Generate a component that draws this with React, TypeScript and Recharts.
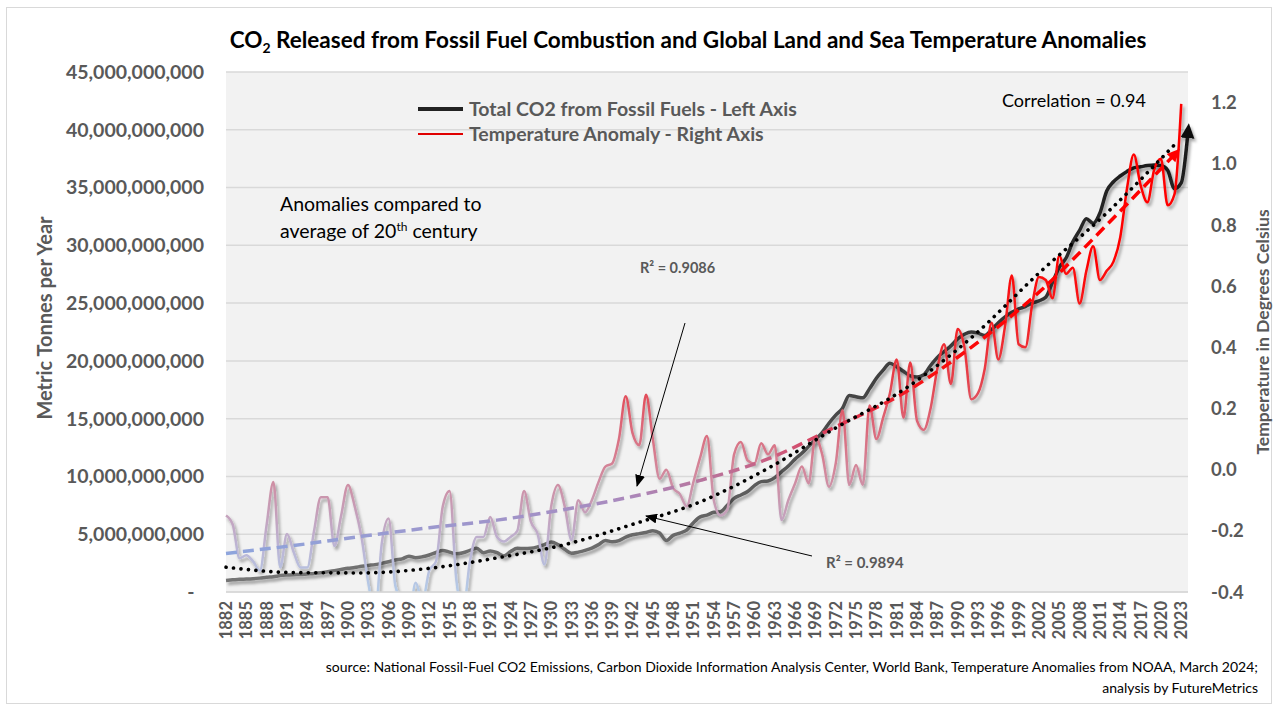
import React from 'react';
import { ComposedChart, Line, XAxis, YAxis, CartesianGrid, Legend } from 'recharts';

const FONT = 'Lato, "Open Sans", sans-serif';
const GREY = '#595959';

// categories 1882..2024
const years = Array.from({ length: 143 }, (_, i) => String(1882 + i));

// total CO2 from fossil fuels, billions of metric tonnes
const co2Billions = [
  1.0, 1.05, 1.1, 1.12, 1.15, 1.2, 1.27, 1.32, 1.42, 1.47,
  1.5, 1.52, 1.56, 1.6, 1.66, 1.75, 1.85, 1.95, 2.05, 2.12,
  2.22, 2.3, 2.37, 2.48, 2.62, 2.77, 2.87, 3.1, 2.97, 3.05,
  3.2, 3.42, 3.6, 3.45, 3.3, 3.4, 3.6, 3.78, 3.4, 3.55,
  3.4, 3.12, 3.5, 3.78, 3.76, 3.78, 3.9, 4.1, 4.32, 4.1,
  3.7, 3.35, 3.45, 3.6, 3.8, 4.1, 4.45, 4.35, 4.45, 4.75,
  4.95, 5.05, 5.15, 5.3, 5.1, 4.45, 4.9, 5.1, 5.35, 6.0,
  6.5, 6.65, 6.9, 6.95, 7.5, 8.1, 8.4, 8.7, 9.2, 9.55,
  9.6, 9.9, 10.4, 10.9, 11.5, 12.0, 12.6, 13.2, 13.8, 14.6,
  15.3, 15.9, 17.0, 16.9, 16.8, 17.6, 18.5, 19.2, 19.8, 19.5,
  19.1, 18.7, 18.6, 18.8, 19.6, 20.3, 20.8, 21.3, 21.9, 22.3,
  22.5, 22.4, 22.2, 22.7, 23.3, 23.8, 24.2, 24.5, 24.7, 25.0,
  25.2, 25.5, 26.8, 28.1, 28.9, 30.3, 31.3, 32.3, 31.9, 32.8,
  34.7, 35.5, 36.0, 36.4, 36.7, 36.8, 36.9, 36.95, 36.9, 36.5,
  34.9, 35.4, 39.8,
];

// land and sea temperature anomaly, deg C vs 20th century average
const tempAnomaly = [
  -0.15, -0.18, -0.29, -0.28, -0.3, -0.33, -0.18, -0.04, -0.32, -0.21,
  -0.27, -0.32, -0.32, -0.2, -0.09, -0.09, -0.25, -0.15, -0.05, -0.12,
  -0.22, -0.37, -0.47, -0.24, -0.16, -0.38, -0.43, -0.48, -0.37, -0.43,
  -0.33, -0.3, -0.12, -0.07, -0.36, -0.46, -0.3, -0.22, -0.22, -0.155,
  -0.22, -0.235, -0.22, -0.2, -0.07, -0.17, -0.21, -0.31, -0.12, -0.05,
  -0.12, -0.23, -0.1, -0.14, -0.1, -0.04, 0.01, 0.02, 0.1, 0.24,
  0.12, 0.08, 0.245, 0.1, -0.03, 0.0, -0.06, -0.08, -0.12, -0.04,
  0.04, 0.11, -0.1, -0.15, -0.13, 0.05, 0.09, 0.03, 0.02, 0.086,
  0.05, 0.08, -0.165, -0.1, -0.045, 0.01, -0.045, 0.107, 0.05, -0.056,
  0.02, 0.194, -0.05, 0.015, -0.05, 0.21, 0.1, 0.17, 0.25, 0.36,
  0.17, 0.35, 0.16, 0.13, 0.2, 0.33, 0.41, 0.28, 0.46, 0.4,
  0.23, 0.25, 0.33, 0.48, 0.36, 0.47, 0.635, 0.41, 0.4, 0.54,
  0.63, 0.62, 0.56, 0.7, 0.64, 0.66, 0.543, 0.65, 0.73, 0.62,
  0.65, 0.68, 0.76, 0.92, 1.03, 0.93, 0.874, 0.98, 1.016, 0.864,
  0.9, 1.196, null,
];

// trendline readings (sparse, drawn as a smooth curve)
const trendYears = ['1882', '1892', '1902', '1912', '1922', '1932', '1942', '1952', '1962', '1972', '1982', '1992', '2002', '2012', '2022'];
const co2TrendBillions = [2.15, 1.68, 1.65, 2.05, 2.95, 4.1, 5.85, 7.8, 10.7, 14.2, 17.5, 22.0, 27.6, 32.8, 38.7];
const tempTrend = [-0.274, -0.248, -0.218, -0.19, -0.165, -0.13, -0.088, -0.035, 0.035, 0.14, 0.25, 0.4, 0.58, 0.8, 1.03];

const leftTicks = [0, 5e9, 10e9, 15e9, 20e9, 25e9, 30e9, 35e9, 40e9, 45e9];
const rightTicks = [-0.4, -0.2, 0, 0.2, 0.4, 0.6, 0.8, 1.0, 1.2];
const legendOrder = ['co2', 'temp'];

const data = years.map((year, i) => {
  const t = trendYears.indexOf(year);
  return {
    year,
    co2: co2Billions[i] * 1e9,
    temp: tempAnomaly[i],
    co2Trend: t >= 0 ? co2TrendBillions[t] * 1e9 : null,
    tempTrend: t >= 0 ? tempTrend[t] : null,
  };
});

const YearTick = ({ x, y, payload }: any) => (
  <text
    transform={`translate(${x + 6},${y + 7}) rotate(-90)`}
    textAnchor="end"
    fontFamily={FONT}
    fontWeight={700}
    fontSize={16.5}
    fill={GREY}
  >
    {payload.value}
  </text>
);

const renderLegend = (props: any) => {
  const items = legendOrder
    .map((k) => (props.payload || []).find((p: any) => p.dataKey === k))
    .filter(Boolean);
  return (
    <div style={{ fontFamily: FONT, fontWeight: 700, fontSize: 19.5, color: GREY, lineHeight: '25px' }}>
      {items.map((p: any) => (
        <div key={p.dataKey} style={{ display: 'flex', alignItems: 'center', whiteSpace: 'nowrap' }}>
          <span
            style={{
              display: 'inline-block',
              width: 45,
              height: p.dataKey === 'co2' ? 4 : 2,
              background: p.dataKey === 'co2' ? '#222' : '#e00000',
              marginRight: 6,
            }}
          />
          {p.value}
        </div>
      ))}
    </div>
  );
};

export default function App() {
  return (
    <div style={{ position: 'absolute', left: 0, top: 0, width: 1277, height: 709, background: '#fff' }}>
      <svg width={0} height={0} style={{ position: 'absolute' }}>
        <defs>
          <linearGradient id="co2Grad" gradientUnits="userSpaceOnUse" x1="0" y1="600" x2="0" y2="100">
            <stop offset="0" stopColor="#7a7a7a" />
            <stop offset="0.35" stopColor="#4a4a4a" />
            <stop offset="0.6" stopColor="#333333" />
            <stop offset="0.85" stopColor="#1f1f1f" />
            <stop offset="1" stopColor="#111111" />
          </linearGradient>
          <linearGradient id="tempGrad" gradientUnits="userSpaceOnUse" x1="0" y1="600" x2="0" y2="100">
            <stop offset="0.016" stopColor="#b4cbe8" />
            <stop offset="0.108" stopColor="#bcb4d4" />
            <stop offset="0.2" stopColor="#c998b0" />
            <stop offset="0.26" stopColor="#d3879b" />
            <stop offset="0.352" stopColor="#dc6677" />
            <stop offset="0.444" stopColor="#e5404a" />
            <stop offset="0.566" stopColor="#f51d20" />
            <stop offset="0.69" stopColor="#ff0000" />
          </linearGradient>
          <linearGradient id="tempTrendGrad" gradientUnits="userSpaceOnUse" x1="0" y1="600" x2="0" y2="100">
            <stop offset="0.078" stopColor="#8aa8e0" />
            <stop offset="0.138" stopColor="#9a9ad0" />
            <stop offset="0.2" stopColor="#a98abe" />
            <stop offset="0.242" stopColor="#b8749c" />
            <stop offset="0.292" stopColor="#cc5a7c" />
            <stop offset="0.352" stopColor="#e03550" />
            <stop offset="0.444" stopColor="#f81010" />
            <stop offset="0.6" stopColor="#ff0000" />
          </linearGradient>
          <filter id="lineShadow" x="-5%" y="-5%" width="110%" height="115%">
            <feDropShadow dx="2" dy="3" stdDeviation="1.6" floodColor="#000" floodOpacity="0.35" />
          </filter>
          <marker id="arrowBlack" markerUnits="userSpaceOnUse" markerWidth="16" markerHeight="16" refX="6" refY="8" orient="auto">
            <path d="M0,1 L15,8 L0,15 z" fill="#111" />
          </marker>
          <marker id="arrowRed" markerUnits="userSpaceOnUse" markerWidth="14" markerHeight="14" refX="5" refY="7" orient="auto">
            <path d="M0,1 L13,7 L0,13 z" fill="#ff0000" />
          </marker>
          <marker id="arrowThin" markerUnits="userSpaceOnUse" markerWidth="12" markerHeight="10" refX="11" refY="5" orient="auto">
            <path d="M0,0 L12,5 L0,10 z" fill="#000" />
          </marker>
        </defs>
      </svg>

      <ComposedChart width={1277} height={709} data={data} margin={{ top: 72, right: 0, bottom: 57, left: 0 }}>
        <CartesianGrid yAxisId="left" vertical={false} stroke="#d9d9d9" strokeWidth={1.5} fill="#f2f2f2" />
        <XAxis
          dataKey="year"
          interval={2}
          height={60}
          tickLine={false}
          tickSize={0}
          axisLine={{ stroke: '#d9d9d9', strokeWidth: 1.5 }}
          tick={<YearTick />}
        />
        <YAxis
          yAxisId="left"
          width={226}
          domain={[0, 45e9]}
          ticks={leftTicks}
          axisLine={false}
          tickLine={false}
          tickSize={0}
          tickMargin={22}
          tickFormatter={(v: number) => (v === 0 ? '-\u00a0\u00a0' : v.toLocaleString('en-US'))}
          tick={{ fill: GREY, fontSize: 19.5, fontWeight: 700, fontFamily: FONT }}
        />
        <YAxis
          yAxisId="right"
          orientation="right"
          width={89}
          domain={[-0.4, 1.3]}
          allowDataOverflow
          ticks={rightTicks}
          axisLine={false}
          tickLine={false}
          tickSize={0}
          tickMargin={23}
          tickFormatter={(v: number) => v.toFixed(1)}
          tick={{ fill: GREY, fontSize: 18.5, fontWeight: 700, fontFamily: FONT }}
        />
        <Legend
          layout="vertical"
          align="center"
          verticalAlign="middle"
          content={renderLegend}
          wrapperStyle={{ top: 96, left: 418, width: 440 }}
        />
        <Line
          yAxisId="left"
          dataKey="co2"
          name="Total CO2 from Fossil Fuels - Left Axis"
          type="monotone"
          stroke="url(#co2Grad)"
          strokeWidth={3.5}
          dot={false}
          markerEnd="url(#arrowBlack)"
          filter="url(#lineShadow)"
          isAnimationActive={false}
        />
        <Line
          yAxisId="right"
          dataKey="temp"
          name="Temperature Anomaly - Right Axis"
          type="monotone"
          stroke="url(#tempGrad)"
          strokeWidth={2.5}
          dot={false}
          filter="url(#lineShadow)"
          isAnimationActive={false}
        />
        <Line
          yAxisId="right"
          dataKey="tempTrend"
          name="Temperature trend"
          type="monotone"
          connectNulls
          stroke="url(#tempTrendGrad)"
          strokeWidth={3.5}
          strokeDasharray="11 6"
          dot={false}
          markerEnd="url(#arrowRed)"
          legendType="none"
          isAnimationActive={false}
        />
        <Line
          yAxisId="left"
          dataKey="co2Trend"
          name="CO2 trend"
          type="monotone"
          connectNulls
          stroke="#000"
          strokeWidth={3.6}
          strokeDasharray="0.1 7.4"
          strokeLinecap="round"
          dot={false}
          legendType="none"
          isAnimationActive={false}
        />
      </ComposedChart>

      <svg width={1277} height={709} style={{ position: 'absolute', left: 0, top: 0, pointerEvents: 'none' }}>
        <rect x={6.5} y={7.5} width={1265} height={696} fill="none" stroke="#d9d9d9" />
        <text x={688} y={48} textAnchor="middle" fontFamily={FONT} fontWeight={700} fontSize={22.5} fill="#000">
          CO<tspan dy={5} fontSize={14}>2</tspan>
          <tspan dy={-5}> Released from Fossil Fuel Combustion and Global Land and Sea Temperature Anomalies</tspan>
        </text>

        <text transform="translate(52,318) rotate(-90)" textAnchor="middle" fontFamily={FONT} fontWeight={700} fontSize={20} fill={GREY}>
          Metric Tonnes per Year
        </text>
        <text transform="translate(1269,332) rotate(-90)" textAnchor="middle" fontFamily={FONT} fontWeight={700} fontSize={17.5} fill={GREY}>
          Temperature in Degrees Celsius
        </text>

        <text x={1002} y={107} fontFamily={FONT} fontSize={18} fill="#000">Correlation = 0.94</text>

        <text x={280} y={211} fontFamily={FONT} fontSize={19.5} fill="#000">Anomalies compared to</text>
        <text x={280} y={238} fontFamily={FONT} fontSize={19.5} fill="#000">
          average of 20<tspan dy={-7} fontSize={12}>th</tspan>
          <tspan dy={7}> century</tspan>
        </text>

        <text x={640} y={273} fontFamily={FONT} fontWeight={700} fontSize={14.5} fill={GREY}>
          R² = 0.9086
        </text>
        <line x1={685} y1={323} x2={637} y2={486} stroke="#000" strokeWidth={1} markerEnd="url(#arrowThin)" />

        <text x={826} y={568} fontFamily={FONT} fontWeight={700} fontSize={15} fill={GREY}>
          R² = 0.9894
        </text>
        <line x1={812} y1={556} x2={646} y2={516} stroke="#000" strokeWidth={1} markerEnd="url(#arrowThin)" />

        <text x={1258} y={672} textAnchor="end" fontFamily={FONT} fontSize={14} fill="#000">
          source: National Fossil-Fuel CO2 Emissions, Carbon Dioxide Information Analysis Center, World Bank, Temperature Anomalies from NOAA, March 2024;
        </text>
        <text x={1258} y={693} textAnchor="end" fontFamily={FONT} fontSize={14} fill="#000">
          analysis by FutureMetrics
        </text>
      </svg>
    </div>
  );
}
